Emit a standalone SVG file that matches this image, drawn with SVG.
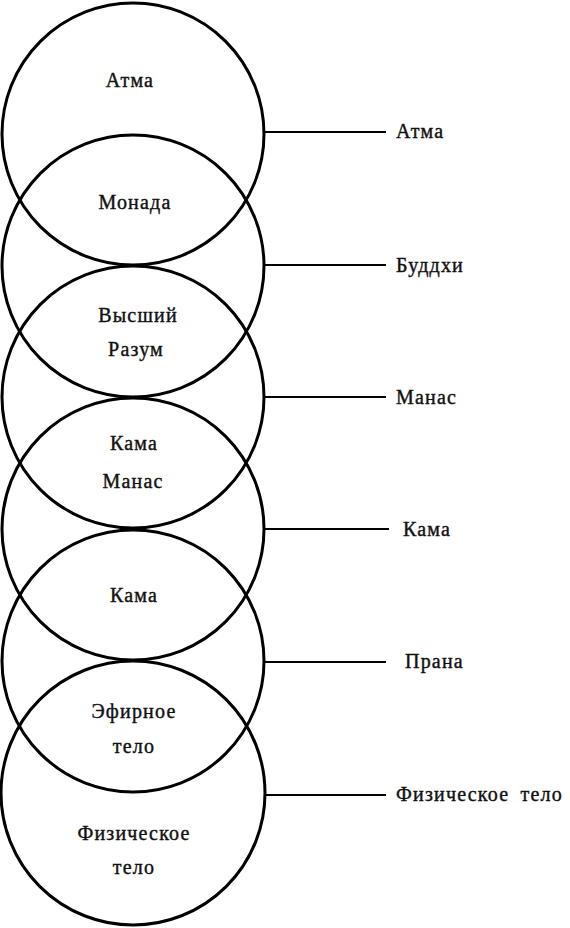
<svg xmlns="http://www.w3.org/2000/svg" width="570" height="928" viewBox="0 0 570 928">
<style>
.c{fill:none;stroke:#000;stroke-width:3}
.l{stroke:#000;stroke-width:2}
text{font-family:"Liberation Serif","DejaVu Serif",serif;font-size:20px;letter-spacing:1.2px;fill:#111;stroke:#111;stroke-width:0.4}
.m{text-anchor:middle}
</style>
<rect width="570" height="928" fill="#fff"/>
<g id="circle-atma"><circle class="c" cx="133" cy="134" r="131"/><text class="m" x="130" y="87">Атма</text></g>
<g id="circle-monada"><circle class="c" cx="133" cy="266" r="131"/><text class="m" x="135" y="209">Монада</text></g>
<g id="circle-razum"><circle class="c" cx="133" cy="397" r="131"/><text class="m" x="138" y="322">Высший</text><text class="m" x="136" y="356">Разум</text></g>
<g id="circle-kamamanas"><circle class="c" cx="133" cy="529" r="131"/><text class="m" x="134" y="450">Кама</text><text class="m" x="133" y="488">Манас</text></g>
<g id="circle-kama"><circle class="c" cx="133" cy="661" r="131"/><text class="m" x="134" y="602">Кама</text><text class="m" x="134" y="718">Эфирное</text><text class="m" x="134" y="753">тело</text></g>
<g id="circle-phys"><circle class="c" cx="133" cy="793" r="132"/><text class="m" x="134" y="840">Физическое</text><text class="m" x="134" y="874">тело</text></g>
<g id="connectors">
<line class="l" x1="264" y1="132" x2="386" y2="132"/>
<line class="l" x1="264" y1="265" x2="386" y2="265"/>
<line class="l" x1="264" y1="397" x2="386" y2="397"/>
<line class="l" x1="264" y1="529" x2="389" y2="529"/>
<line class="l" x1="264" y1="662" x2="386" y2="662"/>
<line class="l" x1="265" y1="795" x2="386" y2="795"/>
</g>
<g id="labels">
<text x="396" y="138">Атма</text>
<text x="396" y="272">Буддхи</text>
<text x="396" y="404">Манас</text>
<text x="403" y="536">Кама</text>
<text x="405" y="668">Прана</text>
<text x="396" y="801" style="word-spacing:5px">Физическое тело</text>
</g>
</svg>
